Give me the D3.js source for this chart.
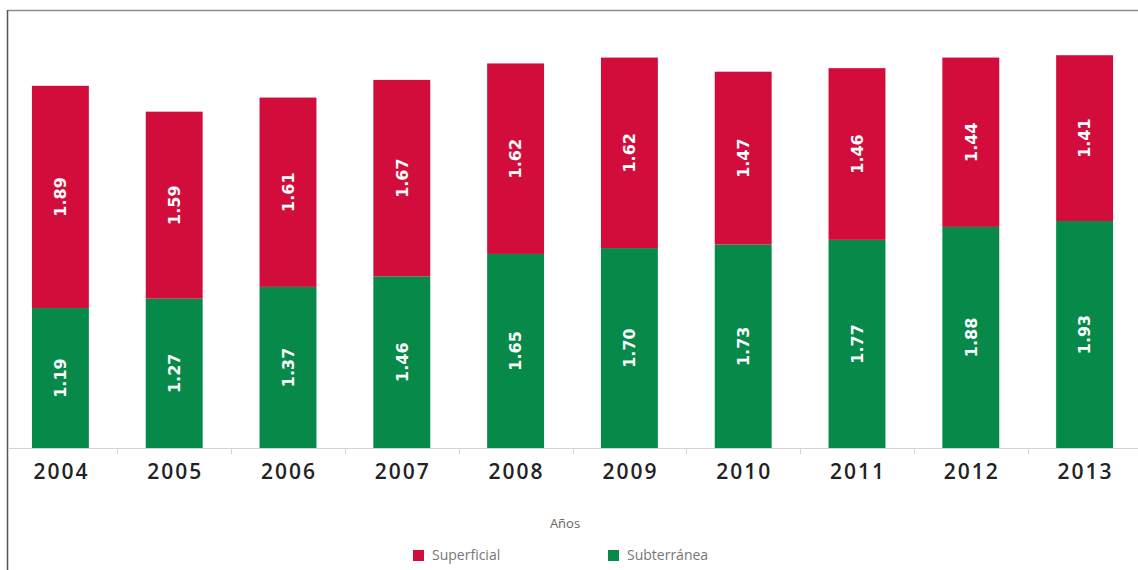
<!DOCTYPE html>
<html>
<head>
<meta charset="utf-8">
<script src="https://cdn.jsdelivr.net/npm/d3@7"></script>
<style>
  html, body { margin: 0; padding: 0; background: #fff; }
  svg { display: block; }
</style>
</head>
<body>
<svg id="chart" width="1138" height="570"></svg>
<script>
// Extracción de agua por fuente (km³)
const years = ["2004", "2005", "2006", "2007", "2008", "2009", "2010", "2011", "2012", "2013"];
const subterranea = [1.19, 1.27, 1.37, 1.46, 1.65, 1.70, 1.73, 1.77, 1.88, 1.93];
const superficial = [1.89, 1.59, 1.61, 1.67, 1.62, 1.62, 1.47, 1.46, 1.44, 1.41];
const seriesNames = ["Superficial", "Subterránea"];
const seriesColors = ["#d30d3b", "#07894a"];

const svg = d3.select("#chart");
const W = 1138, H = 570;
const baseY = 448;

const x = d3.scaleBand()
  .domain(years)
  .range([3.5, 1141.5])
  .paddingInner(0.5)
  .paddingOuter(0.25);

const y = d3.scaleLinear()
  .domain([0, 3.5])
  .range([baseY, baseY - 3.5 * 117.6]);

// frame: top and left rules
svg.append("line").attr("x1", 7.5).attr("x2", W).attr("y1", 10.5).attr("y2", 10.5)
  .attr("stroke", "#8c8c8c").attr("stroke-width", 1.5);
svg.append("line").attr("x1", 7.5).attr("x2", 7.5).attr("y1", 10).attr("y2", H)
  .attr("stroke", "#555").attr("stroke-width", 1.5);

const rows = years.map((yr, i) => ({ year: yr, sub: subterranea[i], sup: superficial[i] }));

const g = svg.append("g");

// groundwater segment (bottom)
g.selectAll("rect.sub").data(rows).join("rect")
  .attr("class", "sub")
  .attr("x", d => x(d.year))
  .attr("width", x.bandwidth())
  .attr("y", d => y(d.sub))
  .attr("height", d => y(0) - y(d.sub))
  .attr("fill", seriesColors[1]);

// surface water segment (top)
g.selectAll("rect.sup").data(rows).join("rect")
  .attr("class", "sup")
  .attr("x", d => x(d.year))
  .attr("width", x.bandwidth())
  .attr("y", d => y(d.sub + d.sup))
  .attr("height", d => y(d.sub) - y(d.sub + d.sup))
  .attr("fill", seriesColors[0]);

// value labels, rotated
function valueLabel(cls, yMid, val) {
  g.selectAll("text." + cls).data(rows).join("text")
    .attr("class", cls)
    .attr("transform", d => `translate(${x(d.year) + x.bandwidth() / 2},${yMid(d)}) rotate(-90)`)
    .attr("text-anchor", "middle")
    .attr("dy", "0.36em")
    .attr("fill", "#fff")
    .style("font-family", "'DejaVu Sans', sans-serif")
    .style("font-size", "16px")
    .style("font-weight", "bold")
    .text(d => val(d).toFixed(2));
}
valueLabel("lsub", d => (y(0) + y(d.sub)) / 2, d => d.sub);
valueLabel("lsup", d => (y(d.sub) + y(d.sub + d.sup)) / 2, d => d.sup);

// x axis
const axis = svg.append("g").attr("transform", `translate(0,${baseY})`);
axis.append("line").attr("x1", 8).attr("x2", W).attr("y1", 0.5).attr("y2", 0.5)
  .attr("stroke", "#d4d4d4").attr("stroke-width", 1);
const step = x.step();
axis.selectAll("line.tick").data(years.slice(1)).join("line")
  .attr("class", "tick")
  .attr("x1", d => Math.round(x(d) - (step - x.bandwidth()) / 2) + 0.5)
  .attr("x2", d => Math.round(x(d) - (step - x.bandwidth()) / 2) + 0.5)
  .attr("y1", 0).attr("y2", 6)
  .attr("stroke", "#d4d4d4");
axis.selectAll("text").data(years).join("text")
  .attr("x", d => x(d) + x.bandwidth() / 2 + 1)
  .attr("y", 31)
  .attr("text-anchor", "middle")
  .attr("fill", "#222")
  .style("font-family", "'Open Sans', sans-serif")
  .style("font-size", "21px")
  .style("font-weight", "600")
  .style("letter-spacing", "2px")
  .text(d => d);

// axis title
svg.append("text")
  .attr("x", 565).attr("y", 528)
  .attr("text-anchor", "middle")
  .attr("fill", "#666")
  .style("font-family", "'Open Sans', sans-serif")
  .style("font-size", "13px")
  .text("Años");

// legend
const legendX = [413, 608];
const lg = svg.selectAll("g.legend").data(seriesNames).join("g")
  .attr("class", "legend")
  .attr("transform", (d, i) => `translate(${legendX[i]},550)`);
lg.append("rect").attr("width", 11).attr("height", 11).attr("y", 0)
  .attr("fill", (d, i) => seriesColors[i]);
lg.append("text").attr("x", 19).attr("y", 10)
  .attr("fill", "#777")
  .style("font-family", "'Open Sans', sans-serif")
  .style("font-size", "14px")
  .text(d => d);
</script>
</body>
</html>
